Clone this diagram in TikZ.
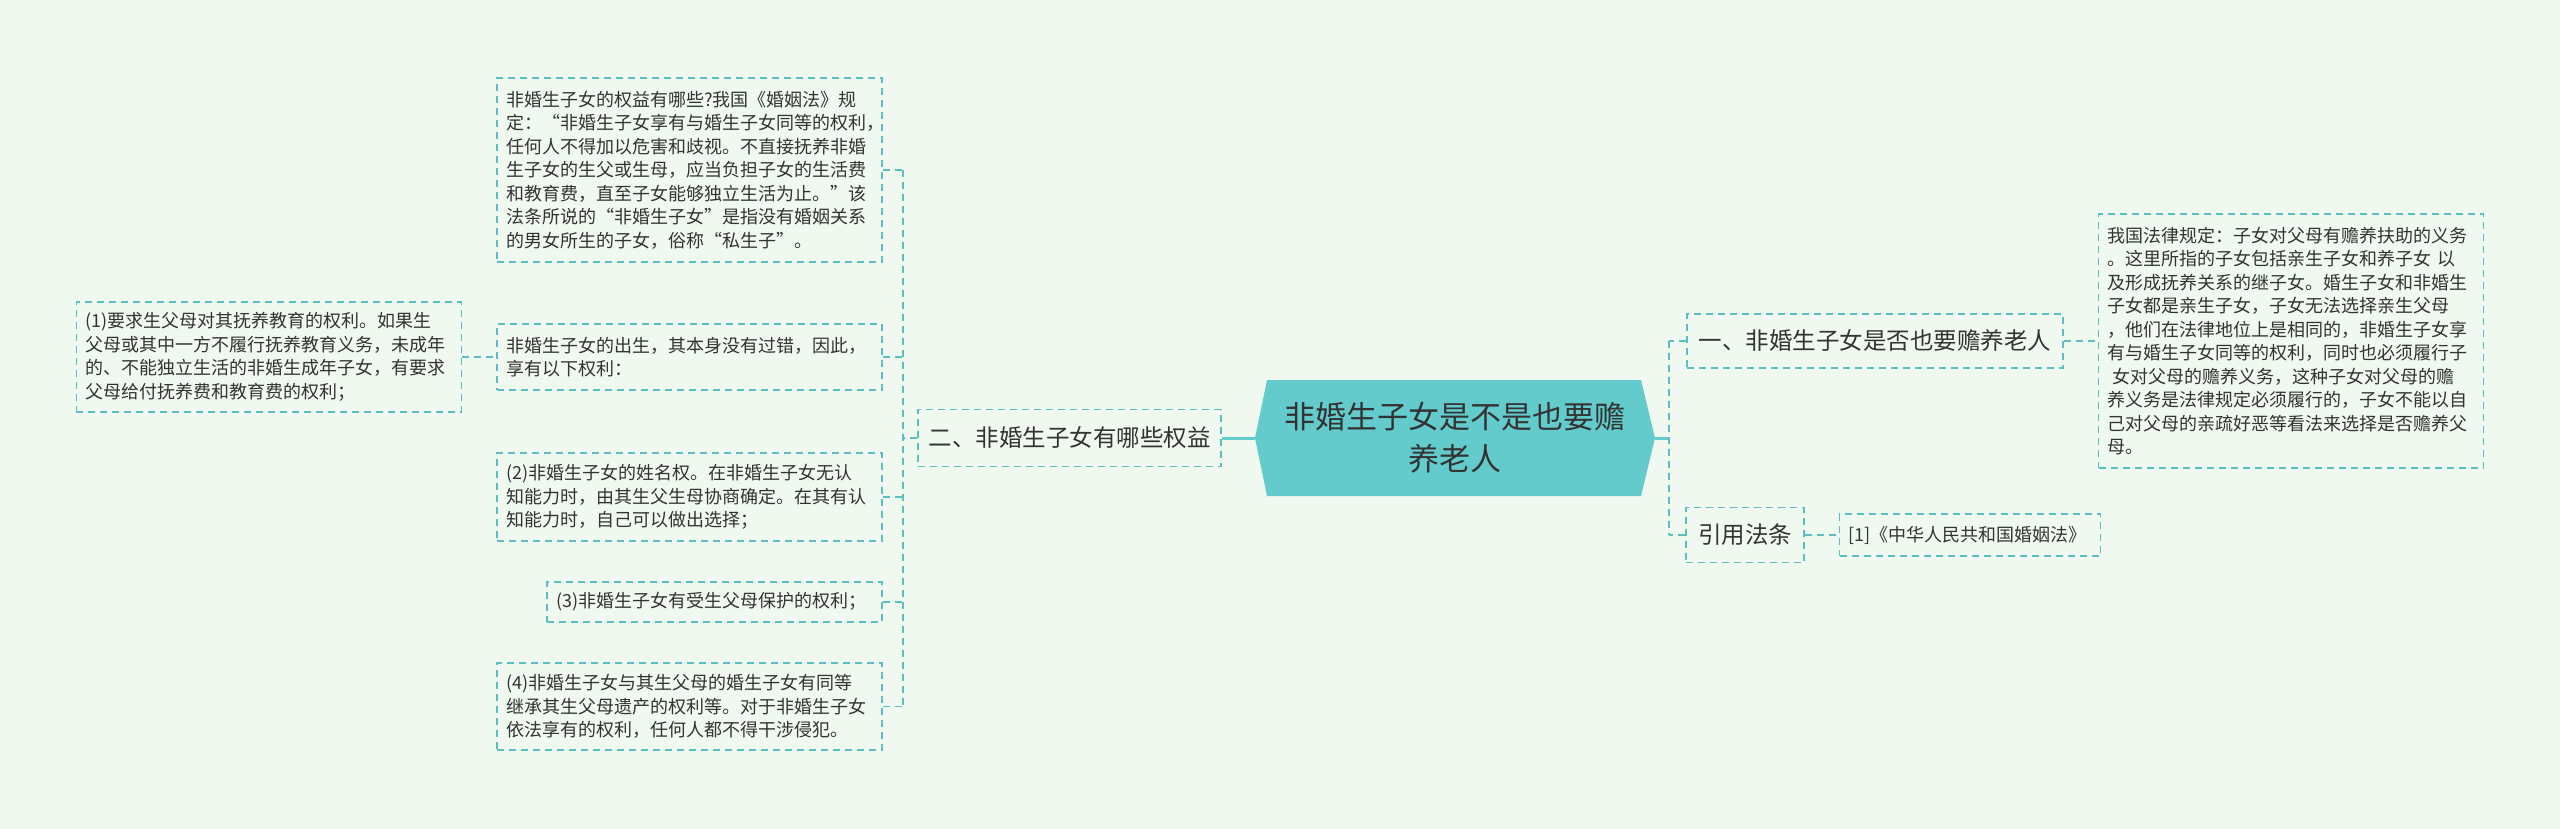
\documentclass[tikz,border=0pt]{standalone}
\usepackage{fontspec}
\usepackage{xcolor}
\usepackage{tikz}
\usetikzlibrary{positioning, calc}
\newfontfamily\cjk{Noto Sans CJK SC}
\definecolor{bgmint}{RGB}{240,249,239}
\definecolor{tealfill}{RGB}{99,203,204}
\definecolor{tealline}{RGB}{92,190,193}
\definecolor{inkgray}{RGB}{51,51,51}
\tikzset{% use tikzset not tikzstyle
	topic/.style={shape=rectangle, text=inkgray, align=center, inner sep=0pt, font=\cjk\fontsize{31}{42}\selectfont},
	subtopic/.style={shape=rectangle, draw=tealline, line width=1.6pt, dash pattern=on 7pt off 5pt, text=inkgray, inner sep=0pt, font=\cjk\fontsize{23.5}{28}\selectfont},
	leaf/.style={shape=rectangle, draw=tealline, line width=1.6pt, dash pattern=on 7pt off 5pt, text=inkgray, align=left, inner xsep=9pt, inner ysep=0pt, font=\cjk\fontsize{18}{23.5}\selectfont},
	tealdash/.style={tealline, line width=1.6pt, dash pattern=on 7pt off 5pt},
	tealthick/.style={tealfill, line width=3pt},
}
\begin{document}
\begin{tikzpicture}[x=1pt, y=-1pt]
				\useasboundingbox (0,0) rectangle (2560,829);
				\fill[bgmint] (0,0) rectangle (2560,829);
				
				% centre
				\fill[tealfill] (1267,380) -- (1641,380) -- (1655,438) -- (1641,496) -- (1267,496) -- (1255,438) -- cycle;
				\node[topic, minimum width=400, minimum height=116] (root) at (1455,438) {非婚生子女是不是也要赡\\养老人};
				
				% right side
				\node[subtopic, minimum width=376, minimum height=54] (duty) at (1875,341) {一、非婚生子女是否也要赡养老人};
				\node[leaf, right=34pt of duty, minimum width=385, minimum height=254, text width=367pt] (dutytext) {%
					我国法律规定：子女对父母有赡养扶助的义务\\
					。这里所指的子女包括亲生子女和养子女 以\\
					及形成抚养关系的继子女。婚生子女和非婚生\\
					子女都是亲生子女，子女无法选择亲生父母\\
					，他们在法律地位上是相同的，非婚生子女享\\
					有与婚生子女同等的权利，同时也必须履行子\\
					\hspace*{5pt}女对父母的赡养义务，这种子女对父母的赡\\
					养义务是法律规定必须履行的，子女不能以自\\
					己对父母的亲疏好恶等看法来选择是否赡养父\\
					母。};
				\node[subtopic, minimum width=118, minimum height=55] (law) at (1745,535) {引用法条};
				\node[leaf, right=34pt of law, minimum width=261, minimum height=42, text width=243pt] (lawtext) {{}[1]《中华人民共和国婚姻法》};
				
				% left side
				\node[subtopic, minimum width=303, minimum height=57] (rights) at (1069.5,438) {二、非婚生子女有哪些权益};
				\node[leaf, minimum width=385, minimum height=184, text width=367pt] (r-intro) at (689.5,170) {%
					非婚生子女的权益有哪些?我国《婚姻法》规\\
					定：“非婚生子女享有与婚生子女同等的权利，\\
					任何人不得加以危害和歧视。不直接抚养非婚\\
					生子女的生父或生母，应当负担子女的生活费\\
					和教育费，直至子女能够独立生活为止。”该\\
					法条所说的“非婚生子女”是指没有婚姻关系\\
					的男女所生的子女，俗称“私生子”。};
				\node[leaf, minimum width=385, minimum height=66, text width=367pt] (r-birth) at (689.5,357) {%
					非婚生子女的出生，其本身没有过错，因此，\\
					享有以下权利：};
				\node[leaf, left=34pt of r-birth, minimum width=385, minimum height=110, text width=367pt] (r-1) {%
					(1)要求生父母对其抚养教育的权利。如果生\\
					父母或其中一方不履行抚养教育义务，未成年\\
					的、不能独立生活的非婚生成年子女，有要求\\
					父母给付抚养费和教育费的权利；};
				\node[leaf, minimum width=385, minimum height=88, text width=367pt] (r-2) at (689.5,497) {%
					(2)非婚生子女的姓名权。在非婚生子女无认\\
					知能力时，由其生父生母协商确定。在其有认\\
					知能力时，自己可以做出选择；};
				\node[leaf, minimum width=335, minimum height=40, text width=317pt] (r-3) at (714.5,602) {(3)非婚生子女有受生父母保护的权利；};
				\node[leaf, minimum width=385, minimum height=87, text width=367pt] (r-4) at (689.5,706.5) {%
					(4)非婚生子女与其生父母的婚生子女有同等\\
					继承其生父母遗产的权利等。对于非婚生子女\\
					依法享有的权利，任何人都不得干涉侵犯。};
				
				\coordinate (ljoin) at (903,438);
				\coordinate (rjoin) at (1669,438);
				
				\draw[tealthick] (root.west) -- (rights.east);
				\draw[tealthick] (root.east) -- (rjoin);
				
				\draw[tealdash] (rights.west) -- (ljoin);
				\draw[tealdash] (r-intro.east -| ljoin) -- (r-4.east -| ljoin);
				\foreach \n in {r-intro, r-birth, r-2, r-3, r-4}
					\draw[tealdash] (\n.east) -- (\n.east -| ljoin);
				\draw[tealdash] (r-1.east) -- (r-birth.west);
				
				\draw[tealdash] (duty.west -| rjoin) -- (law.west -| rjoin);
				\foreach \n in {duty, law}
					\draw[tealdash] (\n.west) -- (\n.west -| rjoin);
				\draw[tealdash] (duty.east) -- (dutytext.west);
				\draw[tealdash] (law.east) -- (lawtext.west);
\end{tikzpicture}
\end{document}
